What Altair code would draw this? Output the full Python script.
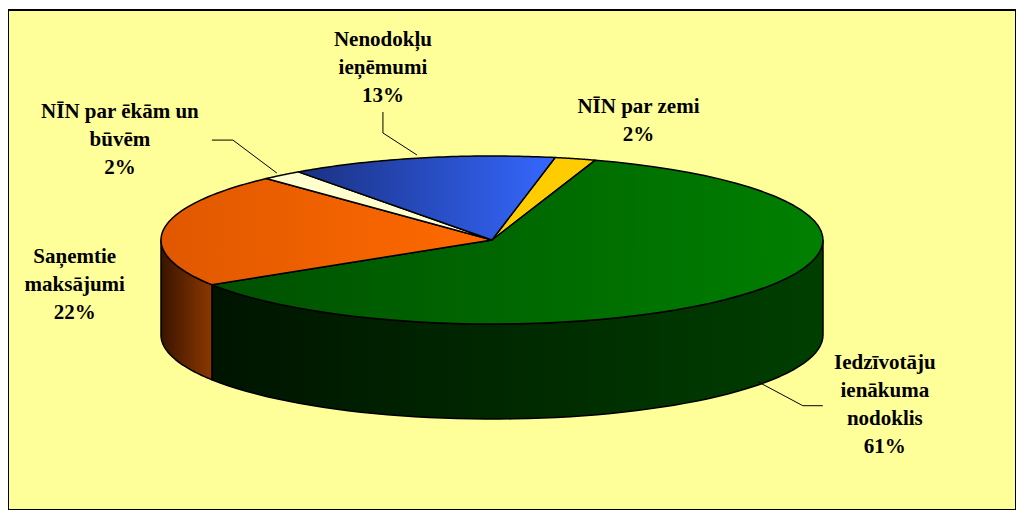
import json
import altair as alt
import pandas as pd

# ---- data ----
names = [
    "NĪN par zemi",
    "Iedzīvotāju ienākuma nodoklis",
    "Saņemtie maksājumi",
    "NĪN par ēkām un būvēm",
    "Nenodokļu ieņēmumi",
]
shares = [2, 61, 22, 2, 13]

# ---- layout / style ----
W, H = 1008, 500
CX, CY, A, B, DEPTH = 484, 230, 331, 84, 95   # ellipse geometry (view pixels)
T0 = 79          # start angle of first slice (degrees, math convention)
N = 60           # arc resolution
LH = 28          # label line height

wrap = {
    "NĪN par zemi": "NĪN par zemi",
    "Iedzīvotāju ienākuma nodoklis": "Iedzīvotāju\nienākuma\nnodoklis",
    "Saņemtie maksājumi": "Saņemtie\nmaksājumi",
    "NĪN par ēkām un būvēm": "NĪN par ēkām un\nbūvēm",
    "Nenodokļu ieņēmumi": "Nenodokļu\nieņēmumi",
}
# offset of the first label line from the slice's rim midpoint
label_offset = {
    "NĪN par zemi": (63, -52),
    "Iedzīvotāju ienākuma nodoklis": (132, 71),
    "Saņemtie maksājumi": (-89, 28),
    "NĪN par ēkām un būvēm": (-162, -63),
    "Nenodokļu ieņēmumi": (-38, -118),
}
leader = {
    "Nenodokļu ieņēmumi": ([-38, -38, -4], [-46, -25, -3]),
    "NĪN par ēkām un būvēm": ([-70, -49, -5], [-35, -35, -2]),
    "Iedzīvotāju ienākuma nodoklis": ([70, 50, 5], [114, 114, 90]),
}


def grad(c0, c1):
    return {
        "gradient": "linear", "x1": 0, "y1": 0, "x2": 1, "y2": 0,
        "stops": [{"offset": 0, "color": c0}, {"offset": 1, "color": c1}],
    }


top_fill = {
    "NĪN par zemi": grad("#FFCC00", "#FFCC00"),
    "Iedzīvotāju ienākuma nodoklis": grad("#005000", "#008000"),
    "Saņemtie maksājumi": grad("#E05800", "#FF6A00"),
    "NĪN par ēkām un būvēm": grad("#FFFFD0", "#FFFFD0"),
    "Nenodokļu ieņēmumi": grad("#1A3080", "#3568FF"),
}
wall_fill = {
    "NĪN par zemi": grad("#806600", "#B38F00"),
    "Iedzīvotāju ienākuma nodoklis": grad("#001400", "#003F00"),
    "Saņemtie maksājumi": grad("#3A1400", "#8C3800"),
    "NĪN par ēkām un būvēm": grad("#808066", "#B3B38F"),
    "Nenodokļu ieņēmumi": grad("#0D1840", "#1A3480"),
}

df = pd.DataFrame({"i": list(range(len(names))), "name": names, "share": shares})

xs = alt.Scale(domain=[0, W], nice=False, zero=False)
ys = alt.Scale(domain=[0, H], nice=False, zero=False, reverse=True)
enc = dict(x=alt.X("x:Q", scale=xs, axis=None), y=alt.Y("y:Q", scale=ys, axis=None))

base = (
    alt.Chart(df)
    .transform_joinaggregate(total="sum(share)")
    .transform_window(cum="sum(share)", sort=[alt.SortField("i")], frame=[None, 0])
    .transform_calculate(t_hi=f"{T0} - (datum.cum - datum.share) / datum.total * 360")
    .transform_calculate(t_lo=f"{T0} - datum.cum / datum.total * 360")
)

walls, tops, leaders, labels = [], [], [], []
for nm in names:
    b = base.transform_filter(alt.datum.name == nm)
    # side wall (front half only)
    w = (
        b.transform_calculate(lo="max(datum.t_lo, -180)")
        .transform_calculate(hi="min(datum.t_hi, 0)")
        .transform_filter("datum.hi > datum.lo")
        .transform_calculate(k=f"sequence(0, {2 * N + 2})")
        .transform_flatten(["k"])
        .transform_calculate(
            t=f"(datum.k <= {N} ? datum.lo + (datum.hi - datum.lo) * datum.k / {N} "
              f": datum.hi - (datum.hi - datum.lo) * (datum.k - {N + 1}) / {N}) * PI / 180")
        .transform_calculate(x=f"{CX} + {A} * cos(datum.t)")
        .transform_calculate(y=f"{CY} - {B} * sin(datum.t) + (datum.k > {N} ? {DEPTH} : 0)")
        .mark_line(interpolate="linear-closed", filled=True, fill=wall_fill[nm],
                   stroke="black", strokeWidth=1.5, strokeJoin="round")
        .encode(order="k:Q", **enc)
    )
    walls.append(w)
    # top face
    t = (
        b.transform_calculate(k=f"sequence(0, {N + 2})")
        .transform_flatten(["k"])
        .transform_calculate(t=f"(datum.t_hi - (datum.t_hi - datum.t_lo) * min(datum.k, {N}) / {N}) * PI / 180")
        .transform_calculate(x=f"datum.k > {N} ? {CX} : {CX} + {A} * cos(datum.t)")
        .transform_calculate(y=f"datum.k > {N} ? {CY} : {CY} - {B} * sin(datum.t)")
        .mark_line(interpolate="linear-closed", filled=True, fill=top_fill[nm],
                   stroke="black", strokeWidth=1.5, strokeJoin="round")
        .encode(order="k:Q", **enc)
    )
    tops.append(t)
    # leader line
    if nm in leader:
        lx, ly = leader[nm]
        ld = (
            b.transform_calculate(k="sequence(0, 3)")
            .transform_flatten(["k"])
            .transform_calculate(tm="(datum.t_hi + datum.t_lo) / 2 * PI / 180")
            .transform_calculate(x=f"{CX} + {A} * cos(datum.tm) + {json.dumps(lx)}[datum.k]")
            .transform_calculate(y=f"{CY} - {B} * sin(datum.tm) + {json.dumps(ly)}[datum.k]")
            .mark_line(stroke="black", strokeWidth=1)
            .encode(order="k:Q", **enc)
        )
        leaders.append(ld)
    # label
    dx, dy = label_offset[nm]
    lb = (
        b.transform_calculate(tm="(datum.t_hi + datum.t_lo) / 2 * PI / 180")
        .transform_calculate(x=f"{CX} + {A} * cos(datum.tm)")
        .transform_calculate(y=f"{CY} - {B} * sin(datum.tm)")
        .transform_calculate(txt=f"{json.dumps(wrap[nm])} + '\\n' + format(datum.share / datum.total, '.0%')")
        .mark_text(dx=dx, dy=dy, align="center", baseline="middle", font="Liberation Serif",
                   fontSize=21, fontWeight="bold", lineBreak="\n", lineHeight=LH, color="black")
        .encode(text="txt:N", **enc)
    )
    labels.append(lb)

chart = (
    alt.layer(*walls, *tops, *leaders, *labels)
    .properties(
        width=W, height=H,
        padding={"left": 0, "top": 2, "right": 0, "bottom": 0},
        autosize=alt.AutoSizeParams(type="none"),
        background="white",
    )
    .configure_view(fill="#FFFF99", stroke="black", strokeWidth=2)
)

chart.save("out.html", embed_options={"renderer": "svg", "actions": False})
